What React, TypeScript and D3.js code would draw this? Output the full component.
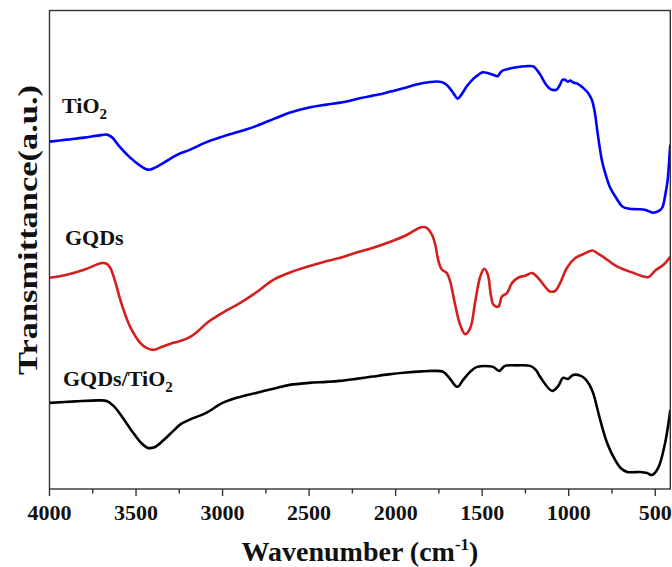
import React from "react";
import * as d3 from "d3";

// Wavenumbers (cm^-1) and transmittance (a.u., offset per sample)
const tio2Wave = [4000,3900,3800,3720,3668,3640,3600,3540,3480,3430,3390,3330,3260,3187,3100,3000,2898,2800,2700,2609,2500,2400,2320,2200,2100,2031,1950,1880,1800,1760,1725,1695,1665,1642,1620,1590,1550,1520,1497,1460,1425,1410,1395,1382,1340,1301,1250,1208,1190,1165,1135,1110,1085,1070,1050,1035,1018,1006,990,977,945,919,890,867,850,838,825,809,790,763,730,688,650,600,561,530,515,490,470,457,445,435,428,416,413];
const tio2Val = [34.7,34.9,35.1,35.3,35.4,35.15,34.3,33.2,32.35,31.9,32.1,32.7,33.4,33.9,34.6,35.2,35.73,36.3,37.0,37.6,38.1,38.4,38.6,39.05,39.4,39.7,40.05,40.4,40.65,40.7,40.6,40.2,39.5,39.0,39.4,40.2,41.0,41.4,41.63,41.5,41.3,41.23,41.6,41.8,42.0,42.13,42.23,42.23,42.0,41.4,40.5,40.0,39.85,39.9,40.4,40.9,40.85,40.7,40.8,40.63,40.45,40.1,39.6,38.9,37.7,36.2,34.6,32.9,31.6,30.2,29.2,28.2,28.0,27.95,27.9,27.7,27.6,27.7,27.9,28.2,29.1,30.1,30.9,33.7,34.4];

const gqdWave = [4000,3900,3800,3697,3670,3649,3620,3591,3560,3534,3476,3440,3401,3350,3285,3240,3187,3140,3089,3000,2898,2800,2707,2600,2511,2420,2320,2230,2130,2030,1933,1858,1830,1819,1790,1771,1752,1732,1704,1685,1656,1627,1598,1569,1540,1511,1488,1467,1450,1434,1406,1386,1357,1328,1290,1251,1212,1184,1145,1107,1078,1049,1010,962,914,862,830,799,721,625,539,500,452,413];
const gqdVal = [21.1,21.4,21.9,22.57,22.5,22.1,20.7,18.9,17.3,16.2,14.6,14.1,13.9,14.2,14.6,14.8,15.2,15.8,16.6,17.6,18.6,19.7,20.9,21.7,22.2,22.65,23.1,23.6,24.1,24.7,25.4,26.13,26.15,26.07,25.4,24.4,22.73,21.9,21.57,20.73,18.4,16.4,15.47,16.07,18.73,21.23,22.0,21.4,19.4,18.4,18.23,19.23,19.57,20.57,21.13,21.3,21.57,21.23,20.4,19.73,19.8,20.6,22.1,23.07,23.47,23.83,23.5,23.17,22.23,21.57,21.17,21.83,22.4,23.2];

const compWave = [4000,3850,3720,3670,3630,3580,3520,3470,3430,3390,3340,3289,3240,3180,3095,3000,2900,2806,2700,2613,2500,2400,2324,2230,2134,2040,1940,1850,1783,1725,1690,1644,1610,1570,1529,1437,1402,1368,1300,1223,1190,1165,1096,1060,1033,1003,974,930,905,880,859,818,778,732,700,662,587,547,518,483,443,413];
const compVal = [8.6,8.75,8.85,8.8,8.3,7.2,5.7,4.6,4.1,4.2,4.9,5.73,6.5,7.0,7.6,8.6,9.2,9.6,10.05,10.4,10.6,10.7,10.8,11.0,11.23,11.45,11.63,11.75,11.8,11.7,11.1,10.2,10.9,11.7,12.2,12.2,11.8,12.3,12.35,12.3,11.9,11.2,9.8,10.3,11.1,11.0,11.4,11.3,11.0,10.4,9.6,6.9,4.6,2.9,2.1,1.7,1.7,1.6,1.4,2.1,4.6,7.9];

const majorTicks = [4000, 3500, 3000, 2500, 2000, 1500, 1000, 500];
const minorTicks = [3750, 3250, 2750, 2250, 1750, 1250, 750];

const seriesNames = ["TiO2", "GQDs", "GQDs/TiO2"];
const seriesColors = ["#0000ff", "#d41f1f", "#000000"];

const W = 672, H = 567;
const left = 49.5, right = 670.3, top = 10.5, bottom = 489;

export default function App() {
  const x = d3.scaleLinear().domain([4000, 413]).range([left, right]);
  const y = d3.scaleLinear().domain([0, 47.8]).range([bottom, top]);
  const line = d3.line<[number, number]>().x(d => x(d[0])).y(d => y(d[1])).curve(d3.curveCatmullRom.alpha(0.5));
  const data = [
    d3.zip(tio2Wave, tio2Val) as [number, number][],
    d3.zip(gqdWave, gqdVal) as [number, number][],
    d3.zip(compWave, compVal) as [number, number][],
  ];
  const font = "'Liberation Serif', 'Times New Roman', serif";
  return (
    <svg width={W} height={H} style={{ position: "absolute", left: 0, top: 0, background: "#fff" }} fontFamily={font} fontWeight="bold">
      <defs>
        <clipPath id="plotclip">
          <rect x={left} y={top} width={right - left} height={bottom - top} />
        </clipPath>
      </defs>
      <g clipPath="url(#plotclip)">
        {data.map((d, i) => (
          <path key={seriesNames[i]} d={line(d) || ""} fill="none" stroke={seriesColors[i]} strokeWidth={2.6} strokeLinejoin="round" />
        ))}
      </g>
      <rect x={left} y={top} width={right - left} height={bottom - top} fill="none" stroke="#333" strokeWidth={1.4} />
      {majorTicks.map(t => (
        <g key={t}>
          <line x1={x(t)} x2={x(t)} y1={bottom} y2={bottom + 7} stroke="#333" strokeWidth={1.4} />
          <text x={x(t)} y={519.5} textAnchor="middle" fontSize={22} fill="#111">{t}</text>
        </g>
      ))}
      {minorTicks.map(t => (
        <line key={t} x1={x(t)} x2={x(t)} y1={bottom} y2={bottom + 4.5} stroke="#333" strokeWidth={1.4} />
      ))}
      <text x={360} y={561} textAnchor="middle" fontSize={28} fill="#111">
        Wavenumber (cm<tspan fontSize={17} dy={-11}>-1</tspan><tspan dy={11}>)</tspan>
      </text>
      <text transform="translate(37,230) rotate(-90)" textAnchor="middle" fontSize={28} fill="#111" textLength={290} lengthAdjust="spacingAndGlyphs">
        Transmittance(a.u.)
      </text>
      <text x={62} y={112.5} fontSize={22} fill="#111">
        TiO<tspan fontSize={15} dy={6}>2</tspan>
      </text>
      <text x={65} y={244.5} fontSize={22} fill="#111">GQDs</text>
      <text x={63} y={386} fontSize={22} fill="#111">
        GQDs/TiO<tspan fontSize={15} dy={6}>2</tspan>
      </text>
    </svg>
  );
}
